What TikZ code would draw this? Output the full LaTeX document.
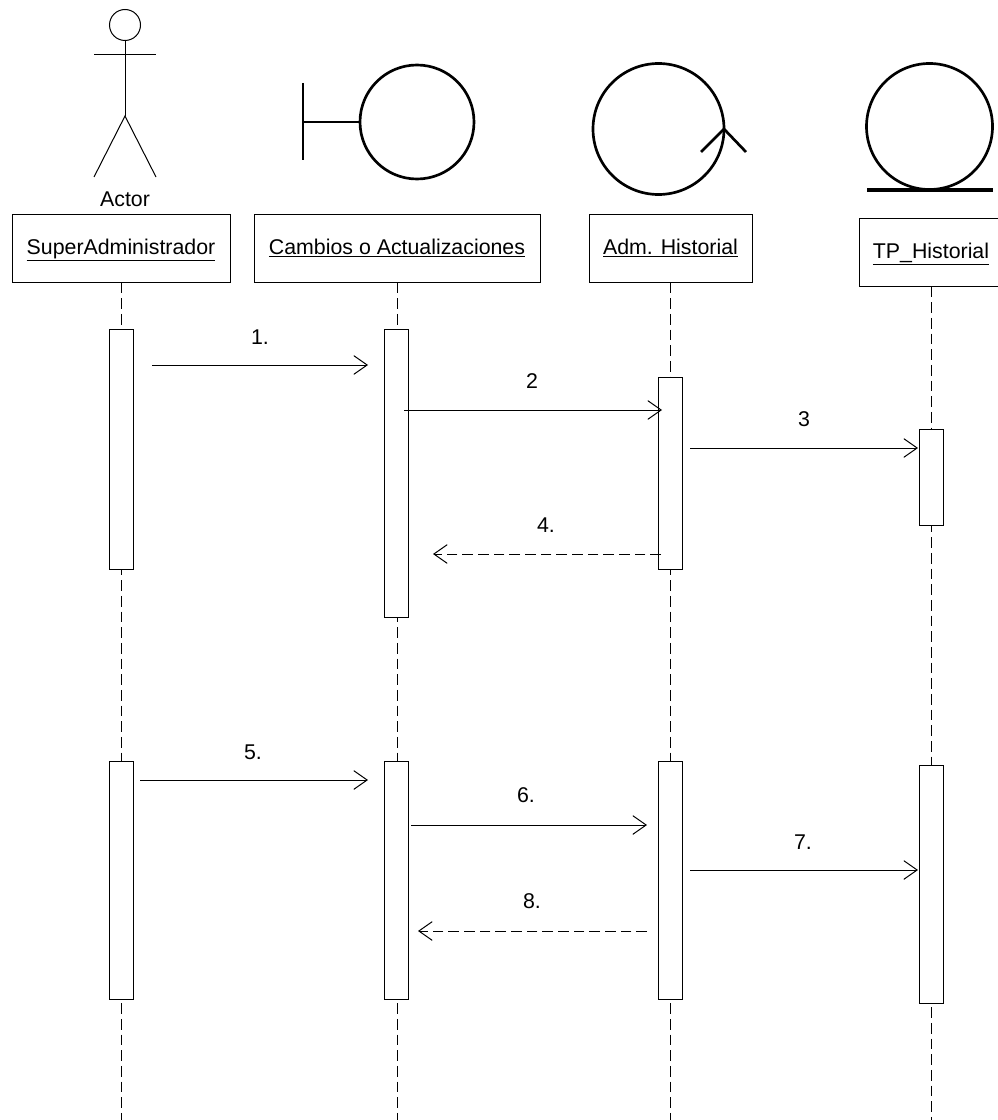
\documentclass[tikz,border=0pt]{standalone}
\usepackage{fontspec}
\setmainfont{Liberation Sans}
\usetikzlibrary{arrows.meta}
\tikzset{
	headbox/.style={draw,fill=white,minimum height=51pt,inner sep=0pt,text height=12pt,text depth=3pt},
	lifeline/.style={dash pattern=on 8pt off 3.75pt},
	msg/.style={->},
	msgback/.style={->,dash pattern=on 8pt off 3.75pt},
	icon/.style={line width=2pt},
	lbl/.style={inner sep=0pt}
}

\begin{document}
\begin{tikzpicture}[>={Straight Barb[length=10pt,width=14pt]},x=.75pt,y=-.75pt,line width=.75pt,
	every node/.style={font=\fontsize{16}{19}\selectfont}]
	\useasboundingbox (0,0) rectangle (998,1120);
	\clip (0,0) rectangle (998,1120);
	%cabeceras
	\node[headbox,minimum width=163.5pt] (super) at (121,248) {\underline{SuperAdministrador}};
	\node[headbox,minimum width=214.5pt] (cambios) at (397,248) {\underline{Cambios o Actualizaciones}};
	\node[headbox,minimum width=122.25pt] (adm) at (670.5,248) {\underline{Adm. Historial}};
	\node[headbox,minimum width=108pt] (tp) at (931,252) {\underline{TP\_Historial}};
	%lineas de vida
	\coordinate (superend) at (super.south |- 0,1120);
	\coordinate (cambiosend) at (cambios.south |- 0,1120);
	\coordinate (admend) at (adm.south |- 0,1120);
	\coordinate (tpend) at (tp.south |- 0,1120);
	\foreach \n in {super,cambios,adm,tp}
		\draw[lifeline] (\n.south) -- (\n end);
	%actor
	\draw (125,25) circle (15.5);
	\draw (125,40.5) -- (125,116) (94,55) -- (156,55);
	\draw (94,177) -- (125,116) -- (156,177);
	\node[lbl] (actor) at (125,199) {Actor};
	%boundary
	\draw[icon] (417,122) circle (57);
	\draw[icon] (303,83) -- (303,160) (303,122) -- (360,122);
	%control
	\draw[icon] (658.5,129) circle (65.5);
	\draw[icon] (701,152) -- (724,129) -- (746,152);
	%entity
	\draw[icon] (929.5,126.5) circle (63);
	\draw[line width=3pt] (867,190) -- (993,190);
	%activaciones
	\foreach \n/\x/\a/\b in {a1/121/329/569,a2/396.5/329/617,a3/670.5/377/569,a4/931/429/525,
		b1/121/761/999,b2/396.5/761/999,b3/670.5/761/999,b4/931/765/1003}
		\path[draw,fill=white] (\x-12,\a) rectangle (\x+12,\b) coordinate (\n);
	%mensajes
	\coordinate (m1a) at (152,365);
	\coordinate (m1b) at (368,365);
	\coordinate (m2a) at (404,410);
	\coordinate (m2b) at (662,410);
	\coordinate (m3a) at (690,448);
	\coordinate (m3b) at (918,448);
	\coordinate (m4a) at (661,554);
	\coordinate (m4b) at (433,554);
	\coordinate (m5a) at (140,780);
	\coordinate (m5b) at (368,780);
	\coordinate (m6a) at (411,825);
	\coordinate (m6b) at (647,825);
	\coordinate (m7a) at (690,870);
	\coordinate (m7b) at (918,870);
	\coordinate (m8a) at (647,931);
	\coordinate (m8b) at (418,931);
	\foreach \m in {1,2,3,5,6,7}
		\draw[msg] (m\m a) -- (m\m b);
	\foreach \m in {4,8}
		\draw[msgback] (m\m a) -- (m\m b);
	%rotulos
	\node[lbl] (l1) at (260,337) {1.};
	\node[lbl] (l2) at (532,381) {2};
	\node[lbl] (l3) at (804,419) {3};
	\node[lbl] (l4) at (546,525) {4.};
	\node[lbl] (l5) at (253,752) {5.};
	\node[lbl] (l6) at (526,795) {6.};
	\node[lbl] (l7) at (803,842) {7.};
	\node[lbl] (l8) at (532,901) {8.};
\end{tikzpicture}
\end{document}
